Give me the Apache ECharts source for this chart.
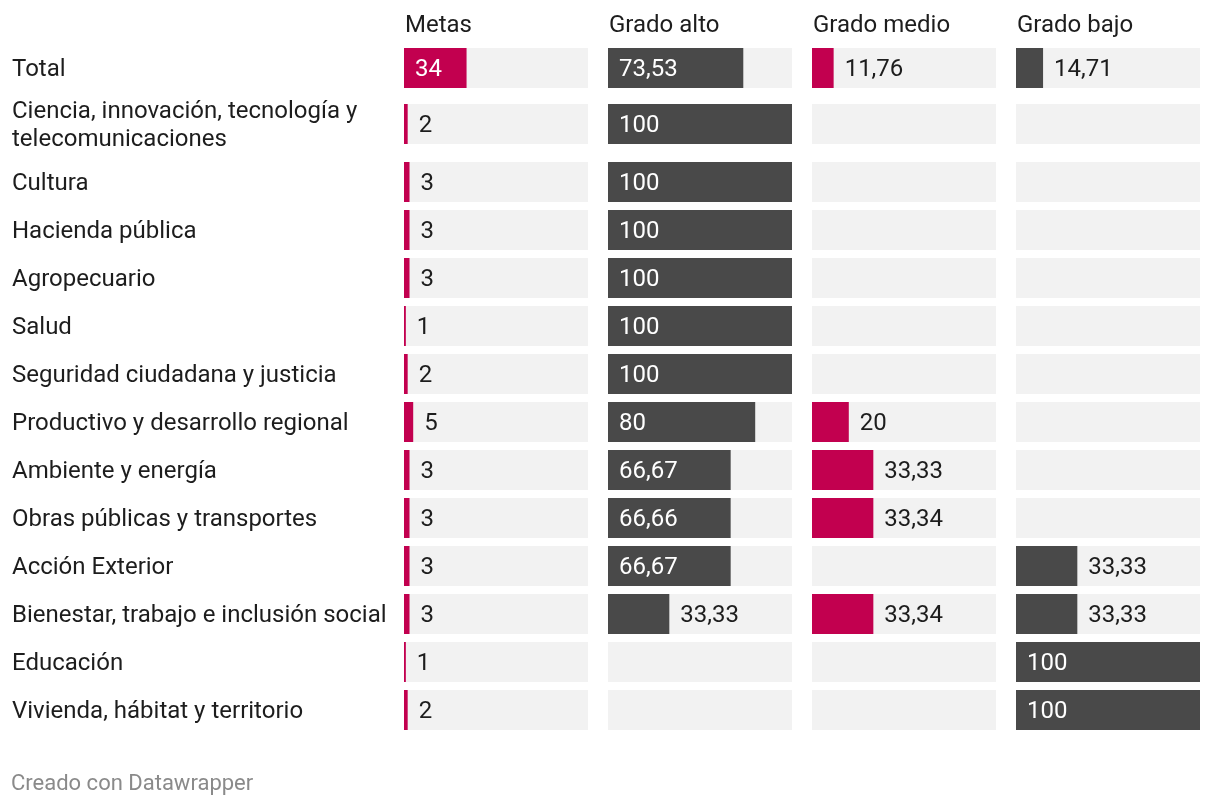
<!DOCTYPE html>
<html><head><meta charset="utf-8">
<script src="https://cdn.jsdelivr.net/npm/echarts@6/dist/echarts.min.js"></script>
<style>html,body{margin:0;padding:0;background:#fff}#c{width:1220px;height:806px}</style>
</head><body><div id="c"></div>
<script>
const headers = ['Metas', 'Grado alto', 'Grado medio', 'Grado bajo'];
const groupA = ['Total'];
const groupB = ['Ciencia, innovación, tecnología y\ntelecomunicaciones'];
const groupC = ['Cultura', 'Hacienda pública', 'Agropecuario', 'Salud', 'Seguridad ciudadana y justicia',
  'Productivo y desarrollo regional', 'Ambiente y energía', 'Obras públicas y transportes',
  'Acción Exterior', 'Bienestar, trabajo e inclusión social', 'Educación', 'Vivienda, hábitat y territorio'];

const metas = [34, 2, 3, 3, 3, 1, 2, 5, 3, 3, 3, 3, 1, 2];
const gradoAlto = [73.53, 100, 100, 100, 100, 100, 100, 80, 66.67, 66.66, 66.67, 33.33, null, null];
const gradoMedio = [11.76, null, null, null, null, null, null, 20, 33.33, 33.34, null, 33.34, null, null];
const gradoBajo = [14.71, null, null, null, null, null, null, null, null, null, 33.33, 33.33, 100, 100];

const columns = [metas, gradoAlto, gradoMedio, gradoBajo];
const colColors = ['#c2004f', '#494949', '#c2004f', '#494949'];
const colLeft = [404, 608, 812, 1016];
const colWidth = 184;
const groups = [
  { labels: groupA, start: 0, top: 44, n: 1 },
  { labels: groupB, start: 1, top: 100, n: 1 },
  { labels: groupC, start: 2, top: 158, n: 12 }
];
const rowH = 48;
const TEXT = '#1d1d1d';
const FONT = 'Roboto';
const FS = 24;

function fmt(v) { return String(v).replace('.', ','); }

const grid = [], xAxis = [], yAxis = [], series = [], title = [];
columns.forEach((vals, c) => {
  title.push({ text: headers[c], left: colLeft[c] - 4, top: 9,
    textStyle: { fontFamily: FONT, fontSize: FS, fontWeight: 'normal', color: TEXT } });
  groups.forEach((g, gi) => {
    const idx = c * 3 + gi;
    grid.push({ left: colLeft[c], width: colWidth, top: g.top, height: g.n * rowH, containLabel: false });
    xAxis.push({ type: 'value', gridIndex: idx, min: 0, max: 100, show: false });
    yAxis.push({ type: 'category', gridIndex: idx, inverse: true, data: g.labels,
      axisLine: { show: false }, axisTick: { show: false }, splitLine: { show: false },
      axisLabel: { show: c === 0, align: 'left', margin: 392, fontFamily: FONT, fontSize: FS, color: TEXT,
        formatter: s => {
          const lines = s.split('\n');
          const tag = lines.length > 1 ? 'b' : 'a';
          return lines.map(t => '{' + tag + '|' + t + '}').join('\n');
        },
        rich: {
          a: { fontFamily: FONT, fontSize: FS, color: TEXT, lineHeight: 24, padding: [4, 0, 0, 0] },
          b: { fontFamily: FONT, fontSize: FS, color: TEXT, lineHeight: 28, padding: [4, 0, 0, 0] }
        } } });
    const sub = vals.slice(g.start, g.start + g.n);
    series.push({ type: 'bar', xAxisIndex: idx, yAxisIndex: idx, barWidth: 40, barGap: '-100%',
      silent: true, z: 1, itemStyle: { color: '#f2f2f2' }, data: sub.map(() => 100) });
    series.push({ type: 'bar', xAxisIndex: idx, yAxisIndex: idx, barWidth: 40, barGap: '-100%',
      silent: true, z: 2, itemStyle: { color: colColors[c] },
      data: sub.map(v => {
        if (v == null) return null;
        const inside = v / 100 * colWidth > fmt(v).length * 12.5 + 20;
        return { value: v, label: { show: true, position: inside ? 'insideLeft' : 'right',
          distance: 11, offset: [0, 2], color: inside ? '#ffffff' : TEXT,
          fontFamily: FONT, fontSize: FS, formatter: () => fmt(v) } };
      }) });
  });
});
title.push({ text: 'Creado con Datawrapper', left: 6, top: 768,
  textStyle: { fontFamily: FONT, fontSize: 22, fontWeight: 'normal', color: '#8a8a8a' } });

const chart = echarts.init(document.getElementById('c'), null, { renderer: 'canvas' });
chart.setOption({ animation: false, backgroundColor: '#ffffff', title, grid, xAxis, yAxis, series });
</script></body></html>
